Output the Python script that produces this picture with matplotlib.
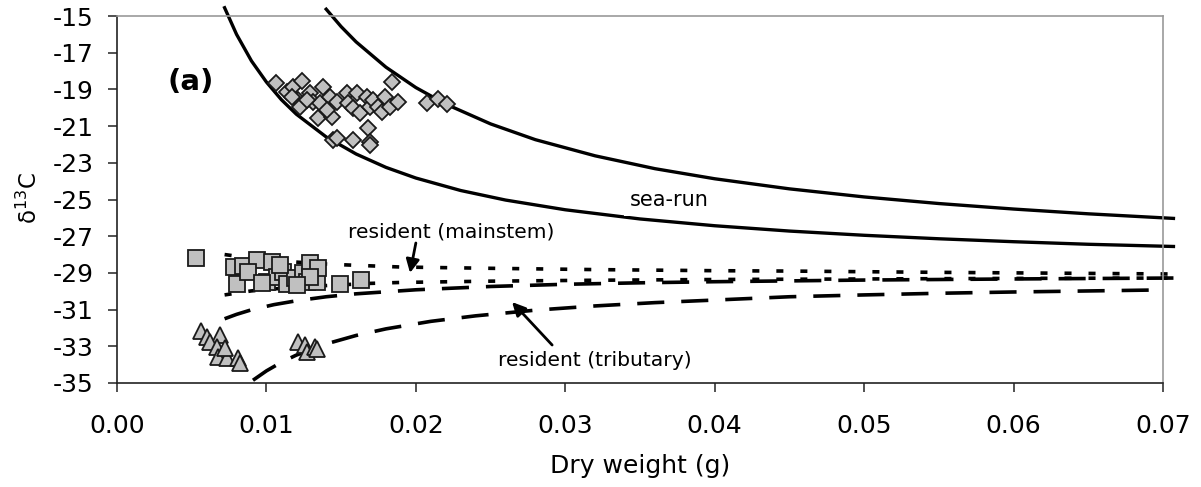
import matplotlib
matplotlib.use("Agg")
import matplotlib.pyplot as plt

# marker data (dry weight g, d13C)
diamond_x = [0.01062, 0.01136, 0.0118, 0.01236, 0.01214, 0.01225, 0.01292, 0.01314,
             0.01381, 0.01359, 0.01348, 0.01426, 0.01437, 0.01404, 0.0147, 0.01537,
             0.01548, 0.01604, 0.01582, 0.01626, 0.01671, 0.01693, 0.01716, 0.01749,
             0.01772, 0.01794, 0.01839, 0.01827, 0.01883, 0.02073, 0.02151, 0.02207,
             0.01448, 0.0147, 0.01582, 0.01682, 0.01693, 0.01693, 0.01169, 0.0127]
diamond_y = [-18.67, -19.12, -18.89, -18.54, -19.58, -19.94, -19.21, -19.67,
             -18.89, -19.76, -20.58, -19.4, -20.49, -20.12, -19.67, -19.18,
             -19.76, -19.21, -20.03, -20.3, -19.4, -19.94, -19.58, -19.94,
             -20.21, -19.4, -18.58, -19.94, -19.67, -19.76, -19.54, -19.8,
             -21.76, -21.67, -21.76, -21.12, -21.85, -22.03, -19.4, -19.58]

square_x = [0.00529, 0.00783, 0.00846, 0.00935, 0.01035, 0.00801, 0.00879, 0.01002,
            0.01069, 0.01113, 0.01136, 0.01191, 0.01247, 0.01292, 0.0127, 0.01337,
            0.01348, 0.01493, 0.01631, 0.00968, 0.01292, 0.01091, 0.01203]
square_y = [-28.2, -28.66, -28.6, -28.3, -28.39, -29.62, -28.93, -29.48,
            -29.21, -28.93, -29.62, -29.3, -29.02, -28.48, -29.48, -29.48,
            -28.75, -29.62, -29.39, -29.57, -29.21, -28.57, -29.66]

triangle_x = [0.0056, 0.006, 0.00689, 0.00622, 0.00667, 0.00678, 0.00734, 0.00812,
              0.00823, 0.00723, 0.01214, 0.01258, 0.0127, 0.01325, 0.01341]
triangle_y = [-32.17, -32.48, -32.39, -32.75, -33.02, -33.57, -33.66, -33.66,
              -33.93, -33.11, -32.75, -32.93, -33.29, -33.02, -33.15]

# curves
searun_hi_x = [0.0140, 0.015, 0.016, 0.018, 0.020, 0.022, 0.025, 0.028, 0.032,
               0.036, 0.040, 0.045, 0.050, 0.055, 0.060, 0.065, 0.0707]
searun_hi_y = [-14.63, -15.58, -16.41, -17.79, -18.9, -19.8, -20.88, -21.74, -22.62,
               -23.32, -23.87, -24.42, -24.86, -25.22, -25.52, -25.78, -26.03]

searun_lo_x = [0.0072, 0.008, 0.009, 0.010, 0.011, 0.012, 0.014, 0.016, 0.018, 0.020,
               0.023, 0.026, 0.030, 0.035, 0.040, 0.045, 0.050, 0.055, 0.060, 0.065, 0.0707]
searun_lo_y = [-14.55, -16.0, -17.45, -18.6, -19.56, -20.35, -21.59, -22.52, -23.25, -23.83,
               -24.51, -25.03, -25.56, -26.06, -26.43, -26.72, -26.95, -27.14, -27.3, -27.44, -27.56]

main_hi_x = [0.0072, 0.009, 0.011, 0.0135, 0.0155, 0.019, 0.025, 0.032, 0.040, 0.045, 0.055, 0.0707]
main_hi_y = [-28.0, -28.2, -28.35, -28.5, -28.57, -28.68, -28.75, -28.82, -28.88, -28.9, -28.97, -29.06]

main_lo_x = [0.0072, 0.009, 0.011, 0.013, 0.015, 0.017, 0.019, 0.025, 0.032, 0.040, 0.050, 0.060, 0.0707]
main_lo_y = [-30.2, -29.98, -29.84, -29.73, -29.65, -29.57, -29.52, -29.45, -29.4, -29.36, -29.33, -29.3, -29.28]

trib_hi_x = [0.0072, 0.008, 0.009, 0.0105, 0.012, 0.014, 0.016, 0.020, 0.025, 0.030,
             0.035, 0.040, 0.050, 0.060, 0.0707]
trib_hi_y = [-31.5, -31.26, -31.01, -30.73, -30.52, -30.3, -30.14, -29.92, -29.74, -29.62,
             -29.54, -29.48, -29.39, -29.33, -29.28]

trib_lo_x = [0.0091, 0.010, 0.011, 0.012, 0.014, 0.016, 0.018, 0.021, 0.024, 0.028,
             0.032, 0.036, 0.040, 0.045, 0.050, 0.055, 0.060, 0.0697]
trib_lo_y = [-34.85, -34.34, -33.87, -33.48, -32.87, -32.41, -32.05, -31.64, -31.34, -31.03,
             -30.8, -30.62, -30.48, -30.3, -30.2, -30.11, -30.04, -29.93]

x_ticks = [0.00, 0.01, 0.02, 0.03, 0.04, 0.05, 0.06, 0.07]
x_tick_labels = ["0.00", "0.01", "0.02", "0.03", "0.04", "0.05", "0.06", "0.07"]
y_ticks = [-35, -33, -31, -29, -27, -25, -23, -21, -19, -17, -15]
y_tick_labels = ["-35", "-33", "-31", "-29", "-27", "-25", "-23", "-21", "-19", "-17", "-15"]

plt.rcParams["font.family"] = ["DejaVu Sans"]

fig = plt.figure(figsize=(12.01, 4.87), dpi=100)
ax = fig.add_axes([117 / 1201, 1 - 383 / 487, 1046 / 1201, 367 / 487])

dotted = (0, (1.95, 4.7))
dashed = (0, (7.5, 4.7))
ax.plot(searun_hi_x, searun_hi_y, color="black", lw=2.4, clip_on=False, zorder=2)
ax.plot(searun_lo_x, searun_lo_y, color="black", lw=2.4, clip_on=False, zorder=2)
ax.plot(main_hi_x, main_hi_y, color="black", lw=2.6, ls=dotted, clip_on=False, zorder=2)
ax.plot(main_lo_x, main_lo_y, color="black", lw=2.6, ls=dotted, clip_on=False, zorder=2)
ax.plot(trib_hi_x, trib_hi_y, color="black", lw=2.6, ls=dashed, clip_on=False, zorder=2)
ax.plot(trib_lo_x, trib_lo_y, color="black", lw=2.6, ls=dashed, clip_on=False, zorder=2)

mk = dict(ls="none", mfc="#c0c0c0", mec="#1a1a1a", mew=1.3, zorder=4)
ax.plot(diamond_x, diamond_y, marker="D", ms=8.6, **mk)
ax.plot(square_x, square_y, marker="s", ms=11, **mk)
ax.plot(triangle_x, triangle_y, marker="^", ms=11.5, **mk)

ax.set_xlim(0, 0.07)
ax.set_ylim(-35, -15)
ax.set_xticks(x_ticks)
ax.set_xticklabels(x_tick_labels)
ax.set_yticks(y_ticks)
ax.set_yticklabels(y_tick_labels)
ax.tick_params(axis="both", direction="out", length=6.5, width=1.1, color="#222222",
               labelsize=18)
ax.tick_params(axis="x", pad=15.5)
ax.tick_params(axis="y", pad=10.5)

for side in ["left", "bottom"]:
    ax.spines[side].set_color("#222222")
    ax.spines[side].set_linewidth(1.2)
for side in ["top", "right"]:
    ax.spines[side].set_color("#999999")
    ax.spines[side].set_linewidth(1.2)

ax.set_xlabel("Dry weight (g)", fontsize=18)
ax.xaxis.set_label_coords(0.5, -0.193)
ax.set_ylabel("δ$^{13}$C", fontsize=16.5)
ax.yaxis.set_label_coords(-0.072, 0.505)

ax.text(0.0034, -18.6, "(a)", fontsize=21, fontweight="bold", ha="left", va="center")
ax.text(0.0343, -25.05, "sea-run", fontsize=15, ha="left", va="center", zorder=3,
        bbox=dict(facecolor="white", edgecolor="none", pad=4))
ax.text(0.01546, -26.77, "resident (mainstem)", fontsize=14.6, ha="left", va="center")
ax.text(0.0255, -33.8, "resident (tributary)", fontsize=14.6, ha="left", va="center")

arrow = dict(arrowstyle="-|>", color="black", lw=2, mutation_scale=20, shrinkA=0, shrinkB=0)
ax.annotate("", xy=(0.01961, -29.0), xytext=(0.0200, -27.37), arrowprops=arrow)
ax.annotate("", xy=(0.02644, -30.59), xytext=(0.02912, -32.93), arrowprops=arrow)

fig.savefig("out.png", dpi=100)
